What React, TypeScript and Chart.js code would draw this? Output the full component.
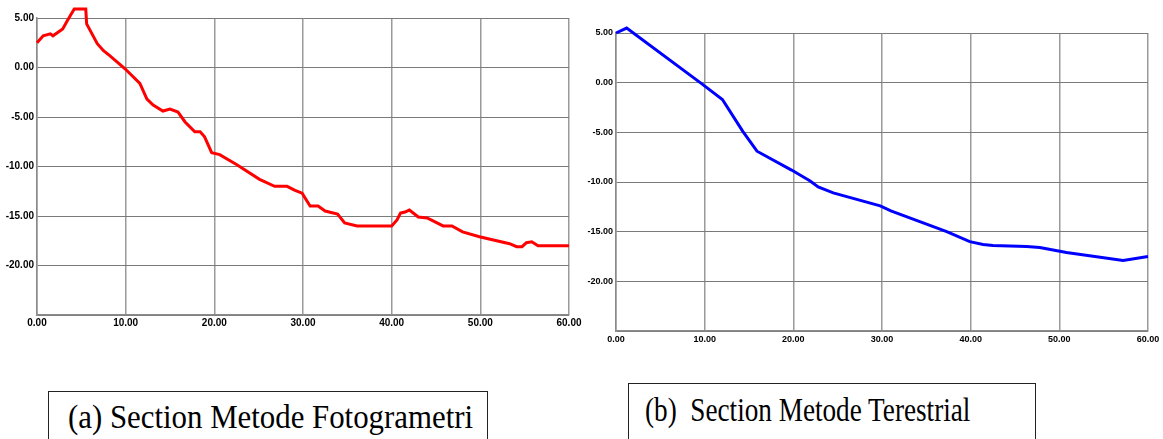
import React, { useEffect, useRef } from "react";
import { Chart, registerables } from "chart.js";

Chart.register(...registerables);

// Section (a) Metode Fotogrametri
const fotoX = [0, 0.7, 1.5, 1.8, 2.9, 3.4, 4.2, 5.5, 5.6, 6.8, 7.5, 8.2, 9.9, 11.6, 12.4, 13.1, 14.2, 15.0, 15.9, 16.7, 17.8, 18.4, 18.9, 19.7, 20.6, 22.5, 25.1, 26.8, 28.2, 29.1, 29.9, 30.8, 31.7, 32.5, 33.9, 34.7, 36.1, 40.0, 40.6, 41.0, 41.5, 42.0, 43.0, 44.0, 45.8, 46.8, 48.0, 49.9, 53.3, 54.1, 54.7, 55.2, 55.8, 56.5, 60];
const fotoY = [2.5, 3.2, 3.4, 3.2, 3.9, 4.7, 5.9, 5.9, 4.4, 2.4, 1.7, 1.2, -0.1, -1.6, -3.2, -3.8, -4.4, -4.2, -4.5, -5.5, -6.5, -6.5, -7.0, -8.6, -8.8, -9.8, -11.3, -12.0, -12.0, -12.4, -12.7, -14.0, -14.0, -14.5, -14.8, -15.7, -16.0, -16.0, -15.4, -14.7, -14.6, -14.4, -15.1, -15.2, -16.0, -16.0, -16.6, -17.1, -17.8, -18.1, -18.1, -17.7, -17.6, -18.0, -18.0];

// Section (b) Metode Terestrial
const teresX = [0, 1.2, 9.8, 12.0, 14.3, 15.9, 19.8, 21.9, 22.8, 24.5, 29.8, 31.0, 37.3, 39.9, 41.4, 42.5, 46.3, 47.8, 50.8, 57.2, 60];
const teresY = [5.0, 5.5, -0.2, -1.7, -4.9, -6.9, -8.8, -9.9, -10.5, -11.1, -12.4, -12.9, -15.0, -16.0, -16.3, -16.4, -16.5, -16.6, -17.1, -17.9, -17.5];

const xMin = 0;
const xMax = 60;
const xStep = 10;
const yMin = -25;
const yMax = 5;
const yStep = 5;
const hiddenYTick = -25;

const captionA = "(a) Section Metode Fotogrametri";
const captionB = "(b)  Section Metode Terestrial";

type ChartSpec = {
  xs: number[];
  ys: number[];
  color: string;
  padTop: number;
  padRight: number;
  yWidth: number;
  xHeight: number;
  fontSize: number;
  xPad: number;
};

function SectionChart(props: { spec: ChartSpec; style: React.CSSProperties; width: number; height: number }) {
  const ref = useRef<HTMLCanvasElement | null>(null);
  useEffect(() => {
    const s = props.spec;
    const data = s.xs.map((x, i) => ({ x, y: s.ys[i] }));
    const tickFont = { family: '"Liberation Sans", Arial, sans-serif', size: s.fontSize, weight: "bold" as const };
    const chart = new Chart(ref.current!, {
      type: "line",
      data: {
        datasets: [
          {
            data,
            borderColor: s.color,
            borderWidth: 3,
            pointRadius: 0,
            tension: 0,
            fill: false,
            clip: false as any,
          },
        ],
      },
      options: {
        animation: false,
        responsive: false,
        maintainAspectRatio: false,
        layout: { padding: { top: s.padTop, right: s.padRight, left: 0, bottom: 0 } },
        plugins: { legend: { display: false }, tooltip: { enabled: false } },
        scales: {
          x: {
            type: "linear",
            min: xMin,
            max: xMax,
            afterFit: (sc: any) => {
              sc.height = s.xHeight;
            },
            ticks: {
              stepSize: xStep,
              color: "#000",
              font: tickFont,
              padding: s.xPad,
              maxRotation: 0,
              callback: (v: any) => Number(v).toFixed(2),
            },
            grid: { color: "#9a9a9a", lineWidth: 1.5, drawTicks: false },
            border: { color: "#8a8a8a", width: 1.5 },
          },
          y: {
            type: "linear",
            min: yMin,
            max: yMax,
            afterFit: (sc: any) => {
              sc.width = s.yWidth;
            },
            ticks: {
              stepSize: yStep,
              color: "#000",
              font: tickFont,
              padding: 3,
              callback: (v: any) => (Number(v) === hiddenYTick ? "" : Number(v).toFixed(2)),
            },
            grid: { color: "#7a7a7a", lineWidth: 1, drawTicks: false },
            border: { color: "#8a8a8a", width: 1.5 },
          },
        },
      },
    });
    return () => chart.destroy();
  }, []);
  return <canvas ref={ref} width={props.width} height={props.height} style={{ position: "absolute", ...props.style }} />;
}

export default function App() {
  const specA: ChartSpec = { xs: fotoX, ys: fotoY, color: "#ff0000", padTop: 18, padRight: 21, yWidth: 37, xHeight: 30, fontSize: 10, xPad: 2 };
  const specB: ChartSpec = { xs: teresX, ys: teresY, color: "#0000ff", padTop: 33, padRight: 15, yWidth: 36, xHeight: 29, fontSize: 9, xPad: 3 };
  const serif = '"Liberation Serif", "Times New Roman", serif';
  return (
    <div style={{ position: "absolute", left: 0, top: 0, width: 1163, height: 439, overflow: "hidden", background: "#fff" }}>
      <SectionChart spec={specA} width={590} height={345} style={{ left: 0, top: 0 }} />
      <SectionChart spec={specB} width={583} height={360} style={{ left: 580, top: 0 }} />
      <div style={{ position: "absolute", left: 48, top: 391, width: 438, height: 80, border: "1px solid #222" }} />
      <div style={{ position: "absolute", left: 628, top: 383, width: 406, height: 80, border: "1px solid #222" }} />
      <div style={{ position: "absolute", left: 68, top: 400, fontFamily: serif, fontSize: 34, lineHeight: "34px", whiteSpace: "pre", color: "#000", transform: "scaleX(0.907)", transformOrigin: "left top" }}>
        {captionA}
      </div>
      <div style={{ position: "absolute", left: 645, top: 393, fontFamily: serif, fontSize: 34, lineHeight: "34px", whiteSpace: "pre", color: "#000", transform: "scaleX(0.80)", transformOrigin: "left top" }}>
        {captionB}
      </div>
    </div>
  );
}
